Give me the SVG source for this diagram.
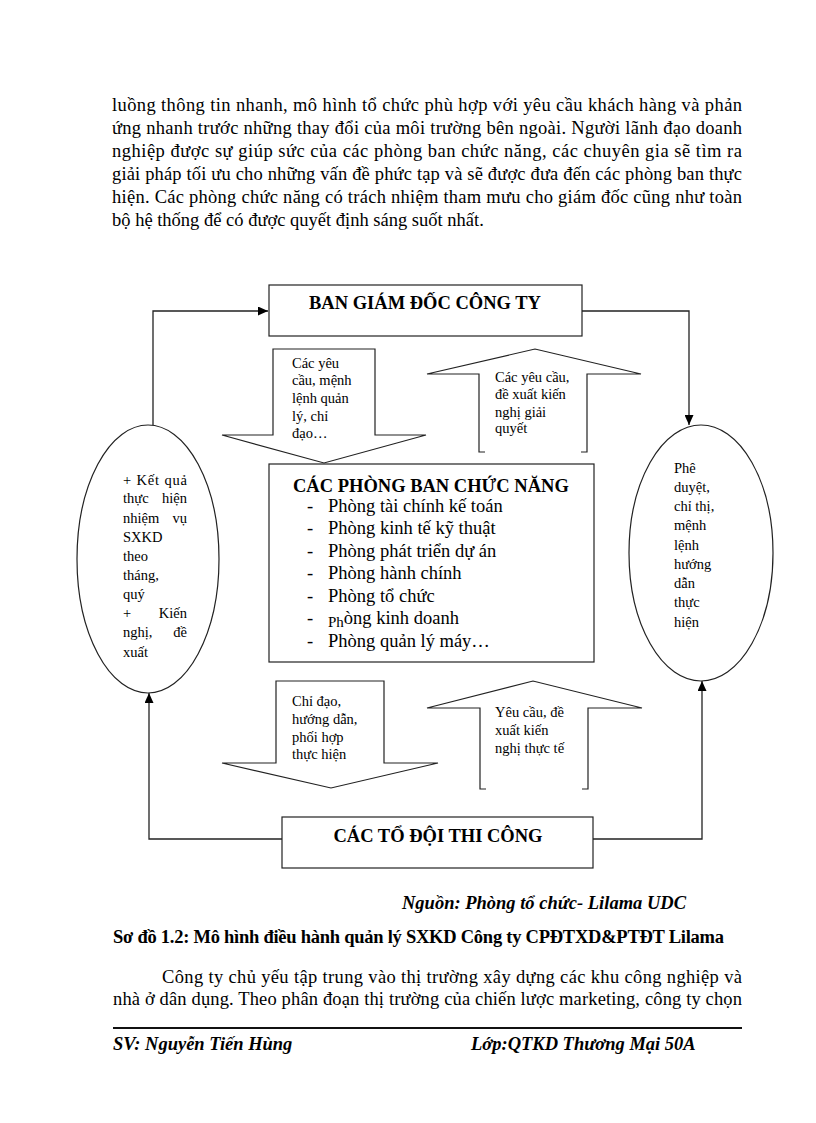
<svg xmlns="http://www.w3.org/2000/svg" width="816" height="1123" viewBox="0 0 816 1123">
<style>
text{font-family:"Liberation Serif","Times New Roman",serif;fill:#000}
.body{font-size:18.5px}
.title{font-size:18.5px;font-weight:bold}
.item{font-size:18.5px}
.small{font-size:14.5px}
.bi{font-size:18.5px;font-weight:bold;font-style:italic}
.b{font-size:18.5px;font-weight:bold}
.box{fill:#fff;stroke:#222;stroke-width:1.2}
.blk{fill:#fff;stroke:#222;stroke-width:1.2;stroke-linejoin:miter}
.conn{fill:none;stroke:#222;stroke-width:1.3}
</style>
<defs>
<marker id="ah" markerUnits="userSpaceOnUse" markerWidth="10" markerHeight="9" refX="10" refY="4.5" orient="auto">
<path d="M0,0 L10,4.5 L0,9 z" fill="#000"/>
</marker>
</defs>
<rect width="816" height="1123" fill="#fff"/>

<g id="paragraph-top" class="body">
<text x="112" y="111" textLength="630" lengthAdjust="spacing">luồng thông tin nhanh, mô hình tổ chức phù hợp với yêu cầu khách hàng và phản</text>
<text x="112" y="134" textLength="630" lengthAdjust="spacing">ứng nhanh trước những thay đổi của môi trường bên ngoài. Người lãnh đạo doanh</text>
<text x="112" y="157" textLength="630" lengthAdjust="spacing">nghiệp được sự giúp sức của các phòng ban chức năng, các chuyên gia sẽ tìm ra</text>
<text x="112" y="180" textLength="630" lengthAdjust="spacing">giải pháp tối ưu cho những vấn đề phức tạp và sẽ được đưa đến các phòng ban thực</text>
<text x="112" y="203" textLength="630" lengthAdjust="spacing">hiện. Các phòng chức năng có trách nhiệm tham mưu cho giám đốc cũng như toàn</text>
<text x="112" y="226">bộ hệ thống để có được quyết định sáng suốt nhất.</text>
</g>

<g id="connectors">
<polyline class="conn" points="153,425 153,311 268,311" marker-end="url(#ah)"/>
<polyline class="conn" points="582,311 689,311 689,425" marker-end="url(#ah)"/>
<polyline class="conn" points="282,839 149,839 149,693" marker-end="url(#ah)"/>
<polyline class="conn" points="593,839 702,839 702,681" marker-end="url(#ah)"/>
</g>

<g id="ban-giam-doc">
<rect class="box" x="269" y="285" width="313" height="51"/>
<text class="title" x="425" y="309" text-anchor="middle">BAN GIÁM ĐỐC CÔNG TY</text>
</g>

<g id="arrow-down-1">
<polygon class="blk" points="273,349 375,349 375,435 426,435 324,463 222,435 273,435"/>
<g class="small">
<text x="292" y="368">Các yêu</text>
<text x="292" y="385">cầu, mệnh</text>
<text x="292" y="403">lệnh quản</text>
<text x="292" y="421">lý, chỉ</text>
<text x="292" y="438">đạo…</text>
</g>
</g>

<g id="arrow-up-1">
<path class="blk" d="M485,452 L479,452 L479,374 L427,374 L535,349 L641,374 L587,374 L587,452 L581,452"/>
<g class="small">
<text x="495" y="382">Các yêu cầu,</text>
<text x="495" y="399">đề xuất kiến</text>
<text x="495" y="417">nghị giải</text>
<text x="495" y="433">quyết</text>
</g>
</g>

<g id="cac-phong-ban">
<rect class="box" x="269" y="464" width="325" height="198"/>
<text class="title" x="293" y="492">CÁC PHÒNG BAN CHỨC NĂNG</text>
<g class="item">
<text x="307" y="512">-</text><text x="328" y="512">Phòng tài chính kế toán</text>
<text x="307" y="534">-</text><text x="328" y="534">Phòng kinh tế kỹ thuật</text>
<text x="307" y="557">-</text><text x="328" y="557">Phòng phát triển dự án</text>
<text x="307" y="579">-</text><text x="328" y="579">Phòng hành chính</text>
<text x="307" y="602">-</text><text x="328" y="602">Phòng tổ chức</text>
<text x="307" y="624">-</text><text x="328" y="624"><tspan font-size="15" dy="3">Ph</tspan><tspan dy="-3">òng kinh doanh</tspan></text>
<text x="307" y="647">-</text><text x="328" y="647">Phòng quản lý máy…</text>
</g>
</g>

<g id="ellipse-left">
<ellipse class="box" cx="148" cy="559" rx="71" ry="134"/>
<g class="small">
<text x="123" y="485" textLength="64" lengthAdjust="spacing">+ Kết quả</text>
<text x="123" y="503">thực</text><text x="187" y="503" text-anchor="end">hiện</text>
<text x="123" y="523">nhiệm</text><text x="187" y="523" text-anchor="end">vụ</text>
<text x="123" y="542">SXKD</text>
<text x="123" y="561">theo</text>
<text x="123" y="580">tháng,</text>
<text x="123" y="599">quý</text>
<text x="123" y="618">+</text><text x="187" y="618" text-anchor="end">Kiến</text>
<text x="123" y="637">nghị,</text><text x="187" y="637" text-anchor="end">đề</text>
<text x="123" y="657">xuất</text>
</g>
</g>

<g id="ellipse-right">
<ellipse class="box" cx="701" cy="553" rx="72" ry="128"/>
<g class="small">
<text x="674" y="473">Phê</text>
<text x="674" y="492">duyệt,</text>
<text x="674" y="511">chỉ thị,</text>
<text x="674" y="530">mệnh</text>
<text x="674" y="550">lệnh</text>
<text x="674" y="569">hướng</text>
<text x="674" y="588">dẫn</text>
<text x="674" y="607">thực</text>
<text x="674" y="627">hiện</text>
</g>
</g>

<g id="arrow-down-2">
<polygon class="blk" points="276,681 384,681 384,763 438,763 331,788 222,763 276,763"/>
<g class="small">
<text x="292" y="706">Chỉ đạo,</text>
<text x="292" y="724">hướng dẫn,</text>
<text x="292" y="742">phối hợp</text>
<text x="292" y="759">thực hiện</text>
</g>
</g>

<g id="arrow-up-2">
<path class="blk" d="M486,789 L480,789 L480,708 L427,708 L533,681 L642,708 L588,708 L588,789 L582,789"/>
<g class="small">
<text x="495" y="717">Yêu cầu, đề</text>
<text x="495" y="735">xuất kiến</text>
<text x="495" y="753">nghị thực tế</text>
</g>
</g>

<g id="cac-to-doi">
<rect class="box" x="282" y="817" width="311" height="51"/>
<text class="title" x="438" y="842" text-anchor="middle">CÁC TỔ ĐỘI THI CÔNG</text>
</g>

<g id="captions">
<text class="bi" x="402" y="909">Nguồn: Phòng tổ chức- Lilama UDC</text>
<text class="b" x="113" y="943" textLength="611" lengthAdjust="spacing">Sơ đồ 1.2: Mô hình điều hành quản lý SXKD  Công ty CPĐTXD&amp;PTĐT  Lilama</text>
</g>

<g id="paragraph-bottom" class="body">
<text x="162" y="983" textLength="580" lengthAdjust="spacing">Công ty chủ yếu tập trung vào thị trường xây dựng các khu công nghiệp và</text>
<text x="113" y="1005" textLength="629" lengthAdjust="spacing">nhà ở dân dụng. Theo phân đoạn thị trường của chiến lược marketing, công ty chọn</text>
</g>

<g id="footer">
<line x1="113" y1="1028" x2="742" y2="1028" stroke="#111" stroke-width="2"/>
<text class="bi" x="113" y="1050">SV: Nguyễn Tiến Hùng</text>
<text class="bi" x="471" y="1050">Lớp:QTKD Thương Mại 50A</text>
</g>
</svg>
